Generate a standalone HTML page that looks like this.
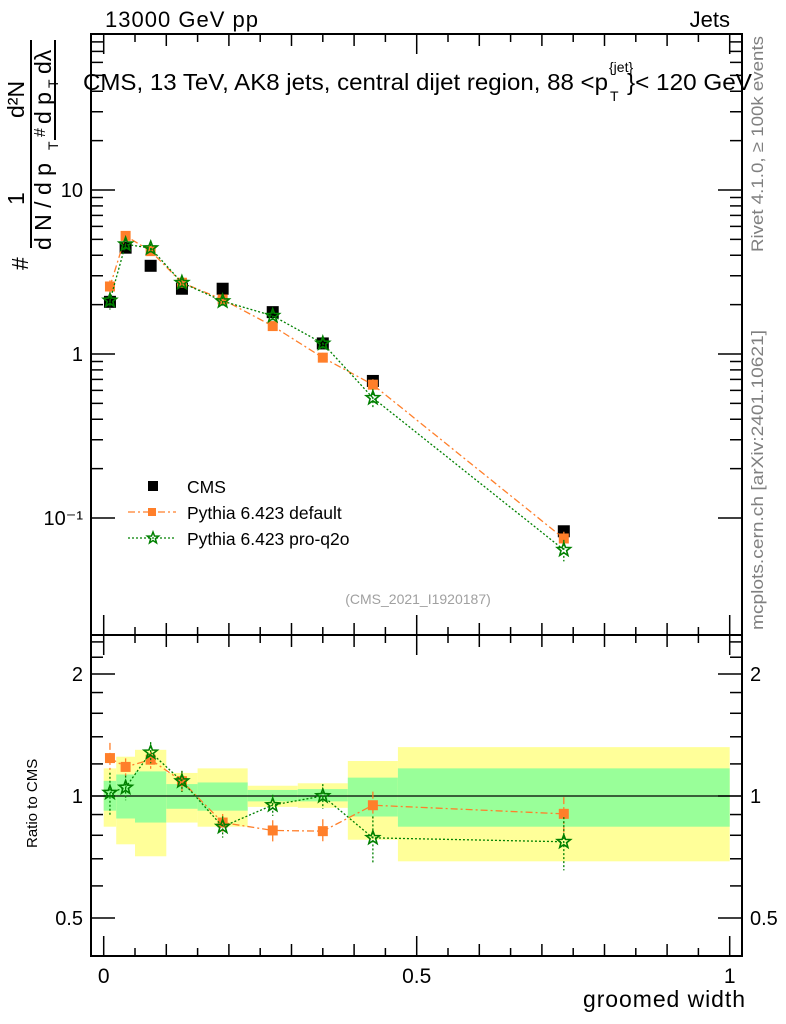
<!DOCTYPE html>
<html><head><meta charset="utf-8"><style>
body{margin:0;background:#fff;}
svg{display:block;font-family:"Liberation Sans",sans-serif;}
</style></head><body>
<svg id="chart" width="786" height="1024" viewBox="0 0 786 1024">
<g id="bands"></g>
<g id="axes"></g>
<g id="series"></g>
<text x="105" y="27" font-size="22" textLength="153">13000 GeV pp</text>
<text x="730" y="27" font-size="22" text-anchor="end">Jets</text>
<g>
<text x="83" y="90" font-size="23" textLength="525" lengthAdjust="spacingAndGlyphs">CMS, 13 TeV, AK8 jets, central dijet region, 88 &lt;p</text>
<text x="609" y="72" font-size="14">{jet}</text>
<text x="610" y="101" font-size="14">T</text>
<text x="627" y="90" font-size="23" textLength="125" lengthAdjust="spacingAndGlyphs">}&lt; 120 GeV</text>
</g>
<text x="418" y="604" font-size="14" fill="#a0a0a0" text-anchor="middle">(CMS_2021_I1920187)</text>
<text transform="translate(763,252) rotate(-90)" font-size="17" fill="#808080" textLength="216" lengthAdjust="spacingAndGlyphs">Rivet 4.1.0, ≥ 100k events</text>
<text transform="translate(763,630) rotate(-90)" font-size="17" fill="#808080" textLength="300" lengthAdjust="spacingAndGlyphs">mcplots.cern.ch [arXiv:2401.10621]</text>
<text x="745" y="1007" font-size="23" text-anchor="end" textLength="162">groomed width</text>
<text transform="translate(37,848) rotate(-90)" font-size="15">Ratio to CMS</text>
<g font-size="23">
<text transform="translate(28,270) rotate(-90)">#</text>
<line x1="31" y1="248" x2="31" y2="40" stroke="#000" stroke-width="2"/>
<text transform="translate(24,205) rotate(-90)">1</text>
<text transform="translate(51,250) rotate(-90)">d N / d p</text>
<text transform="translate(58,150) rotate(-90)" font-size="14">T</text>
<text transform="translate(45,137) rotate(-90)" font-size="16">#</text>
<line x1="55" y1="140" x2="55" y2="40" stroke="#000" stroke-width="2"/>
<text transform="translate(51,124) rotate(-90)">d p</text>
<text transform="translate(58,88) rotate(-90)" font-size="14">T</text>
<text transform="translate(51,74) rotate(-90)">dλ</text>
<text transform="translate(24,118) rotate(-90)">d²N</text>
</g>
<g>
<rect x="148" y="481" width="10" height="10" fill="#000"/>
<text x="187" y="493" font-size="17.5">CMS</text>
<line x1="128" y1="512" x2="176" y2="512" stroke="#ff7f2a" stroke-width="1.3" stroke-dasharray="7,3,2,3"/>
<rect x="148" y="508" width="8" height="8" fill="#ff7f2a"/>
<text x="187" y="519" font-size="17.5">Pythia 6.423 default</text>
<line x1="128" y1="538" x2="176" y2="538" stroke="#008000" stroke-width="1.3" stroke-dasharray="2,2"/>
<polygon id="legstar" fill="none" stroke="#008000" stroke-width="1.5"/>
<text x="187" y="545" font-size="17.5">Pythia 6.423 pro-q2o</text>
</g>
</svg>
<script>
const binEdges=[0,0.02,0.05,0.1,0.15,0.23,0.31,0.39,0.47,1.0];
const binCenters=[0.01,0.035,0.075,0.125,0.19,0.27,0.35,0.43,0.735];
const cmsValues=[2.08,4.45,3.45,2.5,2.5,1.80,1.16,0.685,0.083];
const defaultValues=[2.58,5.25,4.24,2.72,2.15,1.48,0.95,0.65,0.075];
const defaultErr=[0.09,0.05,0.05,0.06,0.05,0.06,0.07,0.08,0.10];
const proq2oValues=[2.12,4.67,4.42,2.72,2.1,1.71,1.16,0.54,0.064];
const proq2oErr=[0.12,0.07,0.06,0.06,0.06,0.06,0.07,0.13,0.15];
const yellowHi=[1.17,1.25,1.30,1.14,1.17,1.06,1.075,1.22,1.32];
const yellowLo=[0.84,0.76,0.71,0.86,0.84,0.94,0.935,0.78,0.69];
const greenHi=[1.09,1.13,1.15,1.07,1.08,1.035,1.04,1.11,1.17];
const greenLo=[0.92,0.88,0.86,0.93,0.92,0.97,0.97,0.89,0.84];
const xTickLabels=[0,0.5,1];
const yMainTicks=[0.1,1,10];
const yMainLabels=["10⁻¹","1","10"];
const yRatioTicks=[0.5,1,2];
const yRatioLabels=["0.5","1","2"];

const NS="http://www.w3.org/2000/svg";
const L=91,R=742,T=34,M=635,B=956;
const X=v=>103.7+v*626;
const Ym=v=>354-164*Math.log10(v);
const Yr=v=>796-122*Math.log2(v);
function mk(p,tag,at){const e=document.createElementNS(NS,tag);for(const k in at)e.setAttribute(k,at[k]);p.appendChild(e);return e;}
function star(cx,cy,r){let pts=[];for(let i=0;i<10;i++){const a=-Math.PI/2+i*Math.PI/5;const rr=i%2?r*0.42:r;pts.push((cx+rr*Math.cos(a)).toFixed(1)+","+(cy+rr*Math.sin(a)).toFixed(1));}return pts.join(" ");}
document.getElementById('legstar').setAttribute('points',star(153,538,6));
const bands=document.getElementById('bands'),axes=document.getElementById('axes'),ser=document.getElementById('series');
for(let i=0;i<binCenters.length;i++){
 const x0=X(binEdges[i]),x1=X(binEdges[i+1]);
 let r=mk(bands,'rect',{x:x0,y:Yr(yellowHi[i]),width:x1-x0,height:Yr(yellowLo[i])-Yr(yellowHi[i]),fill:'#ffff99'});
 
 
 r=mk(bands,'rect',{x:x0,y:Yr(greenHi[i]),width:x1-x0,height:Yr(greenLo[i])-Yr(greenHi[i]),fill:'#99ff99'});
 
 
}
mk(axes,'line',{x1:L,y1:Yr(1),x2:R,y2:Yr(1),stroke:'#000','stroke-width':1.3});
mk(axes,'rect',{x:L,y:T,width:R-L,height:M-T,fill:'none',stroke:'#000','stroke-width':2});
mk(axes,'rect',{x:L,y:M,width:R-L,height:B-M,fill:'none',stroke:'#000','stroke-width':2});
for(let k=0;k<=20;k++){const v=k*0.05;if(X(v)>R)break;const big=k%10==0;
 for(const [yb,dir] of [[T,1],[M,-1],[M,1],[B,-1]]){mk(axes,'line',{x1:X(v),y1:yb,x2:X(v),y2:yb+dir*(k%2==0?(big?20:12):8),stroke:'#000','stroke-width':1.5});}}
xTickLabels.forEach(v=>{const t=mk(axes,'text',{x:X(v),y:B+27,'font-size':21,'text-anchor':'middle'});t.textContent=v;
 
 });
for(let d=-1;d<=1;d++)for(let m=1;m<10;m++){const v=m*Math.pow(10,d);const y=Ym(v);if(y<T||y>M)continue;const len=m==1?24:12;
 mk(axes,'line',{x1:L,y1:y,x2:L+len,y2:y,stroke:'#000','stroke-width':1.5});mk(axes,'line',{x1:R,y1:y,x2:R-len,y2:y,stroke:'#000','stroke-width':1.5});}
yMainTicks.forEach((v,i)=>{const t=mk(axes,'text',{x:L-8,y:Ym(v)+7,'font-size':20,'text-anchor':'end'});t.textContent=yMainLabels[i];
 
 });
for(let m=4;m<=25;m++){const v=m/10;if(m>10&&m%2)continue;const y=Yr(v);if(y<M||y>B)continue;const len=(v==0.5||v==1||v==2)?24:12;
 mk(axes,'line',{x1:L,y1:y,x2:L+len,y2:y,stroke:'#000','stroke-width':1.5});mk(axes,'line',{x1:R,y1:y,x2:R-len,y2:y,stroke:'#000','stroke-width':1.5});}
yRatioTicks.forEach((v,i)=>{for(const [x,a] of [[L-8,'end'],[R+8,'start']]){const t=mk(axes,'text',{x:x,y:Yr(v)+7,'font-size':20,'text-anchor':a});t.textContent=yRatioLabels[i];
 
 }});
function drawModel(vals,errs,color,dash,isStar,name){
 const pm=binCenters.map((c,i)=>X(c)+','+Ym(vals[i])).join(' ');
 const pr=binCenters.map((c,i)=>X(c)+','+Yr(vals[i]/cmsValues[i])).join(' ');
 let l=mk(ser,'polyline',{points:pm,fill:'none',stroke:color,'stroke-width':1.3,'stroke-dasharray':dash});
 
 
 l=mk(ser,'polyline',{points:pr,fill:'none',stroke:color,'stroke-width':1.3,'stroke-dasharray':dash});
 
 
 binCenters.forEach((c,i)=>{
  const x=X(c);
  for(const [yf,v] of [[Ym,vals[i]],[Yr,vals[i]/cmsValues[i]]]){
   mk(ser,'line',{x1:x,y1:yf(v*(1+errs[i])),x2:x,y2:yf(v*(1-errs[i])),stroke:color,'stroke-width':1.3,'stroke-dasharray':dash});
   const y=yf(v);
   let m;
   if(isStar)m=mk(ser,'polygon',{points:star(x,y,7),fill:'none',stroke:color,'stroke-width':1.6});
   else m=mk(ser,'rect',{x:x-5,y:y-5,width:10,height:10,fill:color});
   
   
  }
 });
}
binCenters.forEach((c,i)=>{const m=mk(ser,'rect',{x:X(c)-6,y:Ym(cmsValues[i])-6,width:12,height:12,fill:'#000'});
 
 });
drawModel(defaultValues,defaultErr,'#ff7f2a','7,3,2,3',false,'pythia-default');
drawModel(proq2oValues,proq2oErr,'#008000','2,2',true,'pythia-proq2o');
</script>
</body></html>
